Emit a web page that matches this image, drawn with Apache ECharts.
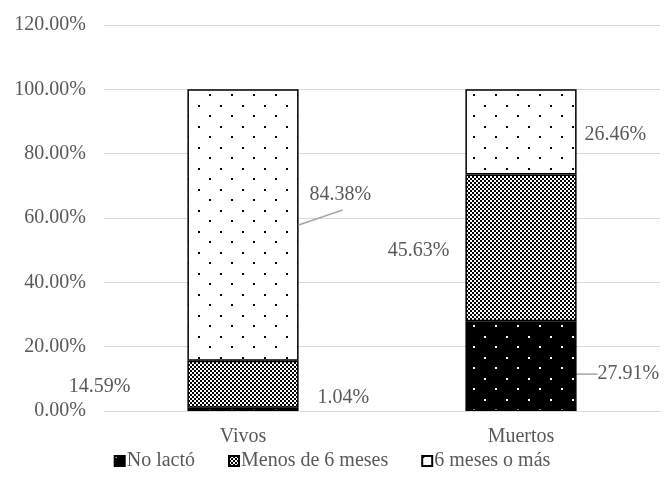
<!DOCTYPE html>
<html>
<head>
<meta charset="utf-8">
<script src="https://cdn.jsdelivr.net/npm/echarts@6/dist/echarts.min.js"></script>
<style>
  html, body { margin: 0; padding: 0; background: #fff; }
  #chart { width: 664px; height: 494px; }
</style>
</head>
<body>
<div id="chart"></div>
<script>
// Lactancia según condición (porcentajes apilados)
const categories = ['Vivos', 'Muertos'];
const seriesNames = ['No lactó', 'Menos de 6 meses', '6 meses o más'];
const noLacto = [1.04, 27.91];
const menosDe6 = [14.59, 45.63];
const seisOMas = [84.38, 26.46];
const yTicks = { min: 0, max: 120, interval: 20 };

const FONT = '"Liberation Serif", "Times New Roman", serif';
const TEXT = '#595959';
const LEADER = '#a6a6a6';

// Fill patterns drawn on small canvases
function dotPattern(bg, fg) {
  const c = document.createElement('canvas');
  c.width = 22; c.height = 21;
  const g = c.getContext('2d');
  g.fillStyle = bg; g.fillRect(0, 0, 22, 21);
  g.fillStyle = fg;
  g.fillRect(0, 0, 2, 2);
  g.fillRect(11, 10, 2, 2);
  return { image: c, repeat: 'repeat' };
}
function checkerPattern() {
  const c = document.createElement('canvas');
  c.width = 4; c.height = 4;
  const g = c.getContext('2d');
  g.fillStyle = '#ffffff'; g.fillRect(0, 0, 4, 4);
  g.fillStyle = '#000000';
  g.fillRect(0, 0, 2, 2);
  g.fillRect(2, 2, 2, 2);
  return { image: c, repeat: 'repeat' };
}

const fills = [dotPattern('#000000', '#ffffff'), checkerPattern(), dotPattern('#ffffff', '#000000')];

const labelBase = {
  show: true,
  fontFamily: FONT,
  fontSize: 20,
  color: TEXT,
  formatter: p => p.value.toFixed(2) + '%'
};

// Label side and gap for each segment, [series][category]
const labelPlacement = [
  [ { position: 'right', distance: 19 }, { position: 'right', distance: 5 } ],
  [ { position: 'left', distance: 57 },  { position: 'left', distance: 16 } ],
  [ { position: 'right', distance: 5 },  { position: 'right', distance: 5 } ]
];
// Label shifts after placement, [series][category]
const labelShift = [
  [ { dx: 0, dy: -12 }, { dx: 16, dy: 8 } ],
  [ { dx: 0, dy: 3 },   { dx: 0, dy: 3 } ],
  [ { dx: 6, dy: -30 }, { dx: 3, dy: 3 } ]
];
// Segments whose label is joined by a built-in guide line
const builtInLeader = [[false, true], [false, false], [false, false]];

const values = [noLacto, menosDe6, seisOMas];

const series = values.map((vals, si) => ({
  name: seriesNames[si],
  type: 'bar',
  stack: 'total',
  barWidth: '40%',
  itemStyle: { color: fills[si], borderColor: '#000', borderWidth: 1.5 },
  emphasis: { disabled: true },
  label: labelBase,
  labelLine: { show: false, lineStyle: { color: LEADER, width: 1.5 }, length2: 0 },
  labelLayout: p => {
    const s = labelShift[si][p.dataIndex];
    return { dx: s.dx, dy: s.dy };
  },
  data: vals.map((v, i) => ({
    value: v,
    label: Object.assign({}, labelPlacement[si][i]),
    labelLine: { show: builtInLeader[si][i] }
  }))
}));

const chart = echarts.init(document.getElementById('chart'), null, { renderer: 'canvas' });
chart.setOption({
  animation: false,
  backgroundColor: '#ffffff',
  grid: { left: 104, right: 4, top: 25, bottom: 83, containLabel: false },
  legend: {
    bottom: 18,
    left: 'center',
    icon: 'rect',
    itemWidth: 10,
    itemHeight: 10,
    itemGap: 33,
    textStyle: { fontFamily: FONT, fontSize: 20, color: TEXT, padding: [0, 0, 0, -3] },
    data: seriesNames
  },
  xAxis: {
    type: 'category',
    data: categories,
    axisLine: { lineStyle: { color: '#d9d9d9', width: 1 } },
    axisTick: { show: false },
    axisLabel: { fontFamily: FONT, fontSize: 20, color: TEXT, margin: 16 }
  },
  yAxis: {
    type: 'value',
    min: yTicks.min,
    max: yTicks.max,
    interval: yTicks.interval,
    axisLine: { show: false },
    axisTick: { show: false },
    splitLine: { lineStyle: { color: '#d9d9d9', width: 1 } },
    axisLabel: {
      fontFamily: FONT, fontSize: 20, color: TEXT, margin: 18,
      formatter: v => v.toFixed(2) + '%'
    }
  },
  series: series
});

// Angled leader for the "6 meses o más" label of Vivos: from the segment's
// middle on its right edge up to just under the moved label.
(function () {
  const data = chart.getModel().getSeriesByIndex(2).getData();
  const lay = data.getItemLayout(0);
  const right = lay.x + lay.width;
  const mid = lay.y + lay.height / 2;
  chart.setOption({
    graphic: [{
      type: 'polyline',
      silent: true,
      z: 10,
      shape: { points: [[right, mid], [right + 44, mid - 15]] },
      style: { stroke: LEADER, lineWidth: 1.5, fill: null }
    }]
  });
})();
</script>
</body>
</html>
